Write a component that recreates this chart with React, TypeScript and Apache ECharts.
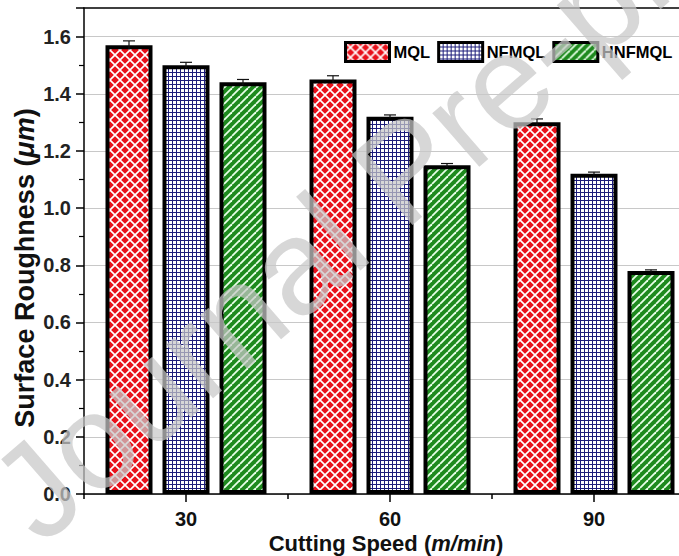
import React, { useEffect, useRef } from "react";
import * as echarts from "echarts";

const categories = ["30", "60", "90"];
const seriesNames = ["MQL", "NFMQL", "HNFMQL"];
const mqlValues = [1.57, 1.45, 1.3];
const nfmqlValues = [1.5, 1.32, 1.12];
const hnfmqlValues = [1.44, 1.15, 0.78];
const mqlErrors = [0.015, 0.013, 0.012];
const nfmqlErrors = [0.01, 0.006, 0.006];
const hnfmqlErrors = [0.01, 0.006, 0.004];

const FONT = '"Liberation Sans", Arial, Helvetica, sans-serif';

function makePattern(kind: string) {
  const c = document.createElement("canvas");
  let size = 10;
  if (kind === "grid") size = 4;
  if (kind === "diag") size = 8;
  c.width = size;
  c.height = size;
  const ctx = c.getContext("2d")!;
  if (kind === "cross") {
    ctx.fillStyle = "#e8101a";
    ctx.fillRect(0, 0, size, size);
    ctx.strokeStyle = "#ffffff";
    ctx.lineWidth = 1.6;
    for (const o of [-size, 0, size]) {
      ctx.beginPath();
      ctx.moveTo(o, 0);
      ctx.lineTo(o + size, size);
      ctx.moveTo(o + size, 0);
      ctx.lineTo(o, size);
      ctx.stroke();
    }
  } else if (kind === "grid") {
    ctx.fillStyle = "#ffffff";
    ctx.fillRect(0, 0, size, size);
    ctx.fillStyle = "#1c1c7a";
    ctx.fillRect(0, 0, size, 1);
    ctx.fillRect(0, 0, 1, size);
  } else {
    ctx.fillStyle = "#1e8a1e";
    ctx.fillRect(0, 0, size, size);
    ctx.strokeStyle = "#e8ffe8";
    ctx.lineWidth = 1.8;
    for (const o of [-size, 0, size]) {
      ctx.beginPath();
      ctx.moveTo(o, size);
      ctx.lineTo(o + size, 0);
      ctx.stroke();
    }
  }
  return { image: c, repeat: "repeat", imageWidth: size, imageHeight: size } as any;
}

export default function App() {
  const ref = useRef<HTMLDivElement>(null);
  useEffect(() => {
    const chart = echarts.init(ref.current!, null, { renderer: "svg" });
    const patterns = [makePattern("cross"), makePattern("grid"), makePattern("diag")];
    const values = [mqlValues, nfmqlValues, hnfmqlValues];
    const errors = [mqlErrors, nfmqlErrors, hnfmqlErrors];
    const barWidth = 47;
    const step = 57;
    const offsets = [-step, 0, step];
    const errData: number[][] = [];
    values.forEach((vals, si) =>
      vals.forEach((v, ci) => errData.push([ci, v, errors[si][ci], si]))
    );

    const barSeries = seriesNames.map((name, si) => ({
      name,
      type: "bar",
      xAxisIndex: 0,
      yAxisIndex: 0,
      data: values[si],
      barWidth,
      barGap: ((step - barWidth) / barWidth) * 100 + "%",
      itemStyle: { color: patterns[si], borderColor: "#000", borderWidth: 4 },
      z: 2,
    }));

    const option: any = {
      animation: false,
      backgroundColor: "#ffffff",
      legend: {
        data: seriesNames,
        left: 339,
        top: 36,
        itemWidth: 44,
        itemHeight: 19,
        itemGap: 7,
        icon: "rect",
        itemStyle: { borderColor: "#000", borderWidth: 3 },
        textStyle: { fontFamily: FONT, fontWeight: "bold", fontSize: 16.5, color: "#000", padding: [0, 0, 0, -1] },
      },
      grid: { left: 84, top: 8, bottom: 62, width: 612, containLabel: false, outerBoundsMode: "none" },
      xAxis: [
        {
          type: "category",
          data: categories,
          position: "bottom",
          axisLine: { show: true, lineStyle: { color: "#000", width: 1.5 } },
          axisTick: { show: true, alignWithLabel: true, length: 8, lineStyle: { color: "#000", width: 1.5 } },
          axisLabel: { fontFamily: FONT, fontWeight: "bold", fontSize: 20, color: "#111", margin: 15 },
          splitLine: { show: false },
        },
        {
          type: "category",
          data: categories,
          position: "bottom",
          axisLine: { show: false },
          axisTick: { show: true, length: 5, lineStyle: { color: "#000", width: 1.5 } },
          axisLabel: { show: false },
          splitLine: { show: false },
        },
        {
          type: "category",
          data: categories,
          position: "top",
          axisLine: { show: true, lineStyle: { color: "#000", width: 1.5 } },
          axisTick: { show: false },
          axisLabel: { show: false },
          splitLine: { show: false },
        },
      ],
      yAxis: {
        type: "value",
        min: 0,
        max: 1.7,
        interval: 0.2,
        axisLine: { show: true, lineStyle: { color: "#000", width: 1.5 } },
        axisTick: { show: true, length: 8, lineStyle: { color: "#000", width: 1.5 } },
        minorTick: { show: true, splitNumber: 2, length: 5, lineStyle: { color: "#000", width: 1.2 } },
        axisLabel: {
          fontFamily: FONT,
          fontWeight: "bold",
          fontSize: 20,
          color: "#222",
          margin: 13,
          showMaxLabel: false,
          formatter: (v: number) => v.toFixed(1),
        },
        splitLine: { show: true, showMaxLine: false, lineStyle: { color: "#c8c8c8", width: 1 } },
      },
      graphic: [
        {
          type: "text",
          x: 386,
          y: 543,
          style: {
            text: "{b|Cutting Speed (}{i|m/min}{b|)}",
            align: "center",
            verticalAlign: "middle",
            rich: {
              b: { fontFamily: FONT, fontWeight: "bold", fontSize: 22, fill: "#111" },
              i: { fontFamily: FONT, fontWeight: "bold", fontStyle: "italic", fontSize: 22, fill: "#111" },
            },
          },
        },
        {
          type: "text",
          x: 25,
          y: 268,
          rotation: Math.PI / 2,
          style: {
            text: "{b|Surface Roughness (}{i|μm}{b|)}",
            align: "center",
            verticalAlign: "middle",
            rich: {
              b: { fontFamily: FONT, fontWeight: "bold", fontSize: 27, fill: "#111" },
              i: { fontFamily: FONT, fontWeight: "bold", fontStyle: "italic", fontSize: 27, fill: "#111" },
            },
          },
        },
        {
          type: "text",
          x: 405,
          y: 170,
          rotation: (41 * Math.PI) / 180,
          z: 100,
          silent: true,
          style: {
            text: "Journal Pre-proof",
            align: "center",
            verticalAlign: "middle",
            fontFamily: FONT,
            fontSize: 135,
            fill: "rgba(200,200,200,0.72)",
          },
        },
      ],
      series: [
        ...barSeries,
        {
          type: "custom",
          name: "errors",
          xAxisIndex: 0,
          yAxisIndex: 0,
          data: errData,
          z: 5,
          encode: { x: 0, y: 1 },
          renderItem: (params: any, api: any) => {
            const ci = api.value(0);
            const v = api.value(1);
            const e = api.value(2);
            const si = api.value(3);
            const c = api.coord([ci, v]);
            const x = c[0] + offsets[si];
            const yTop = api.coord([ci, v + e])[1];
            const yBot = api.coord([ci, v - e])[1];
            const st = { stroke: "#111", lineWidth: 1.2 };
            return {
              type: "group",
              children: [
                { type: "line", shape: { x1: x, y1: yTop, x2: x, y2: yBot }, style: st },
                { type: "line", shape: { x1: x - 6, y1: yTop, x2: x + 6, y2: yTop }, style: st },
              ],
            };
          },
        },
      ],
    };
    chart.setOption(option);
    return () => chart.dispose();
  }, []);
  return (
    <div
      ref={ref}
      style={{ position: "fixed", left: 0, top: 0, width: 679, height: 556, background: "#fff" }}
    />
  );
}
